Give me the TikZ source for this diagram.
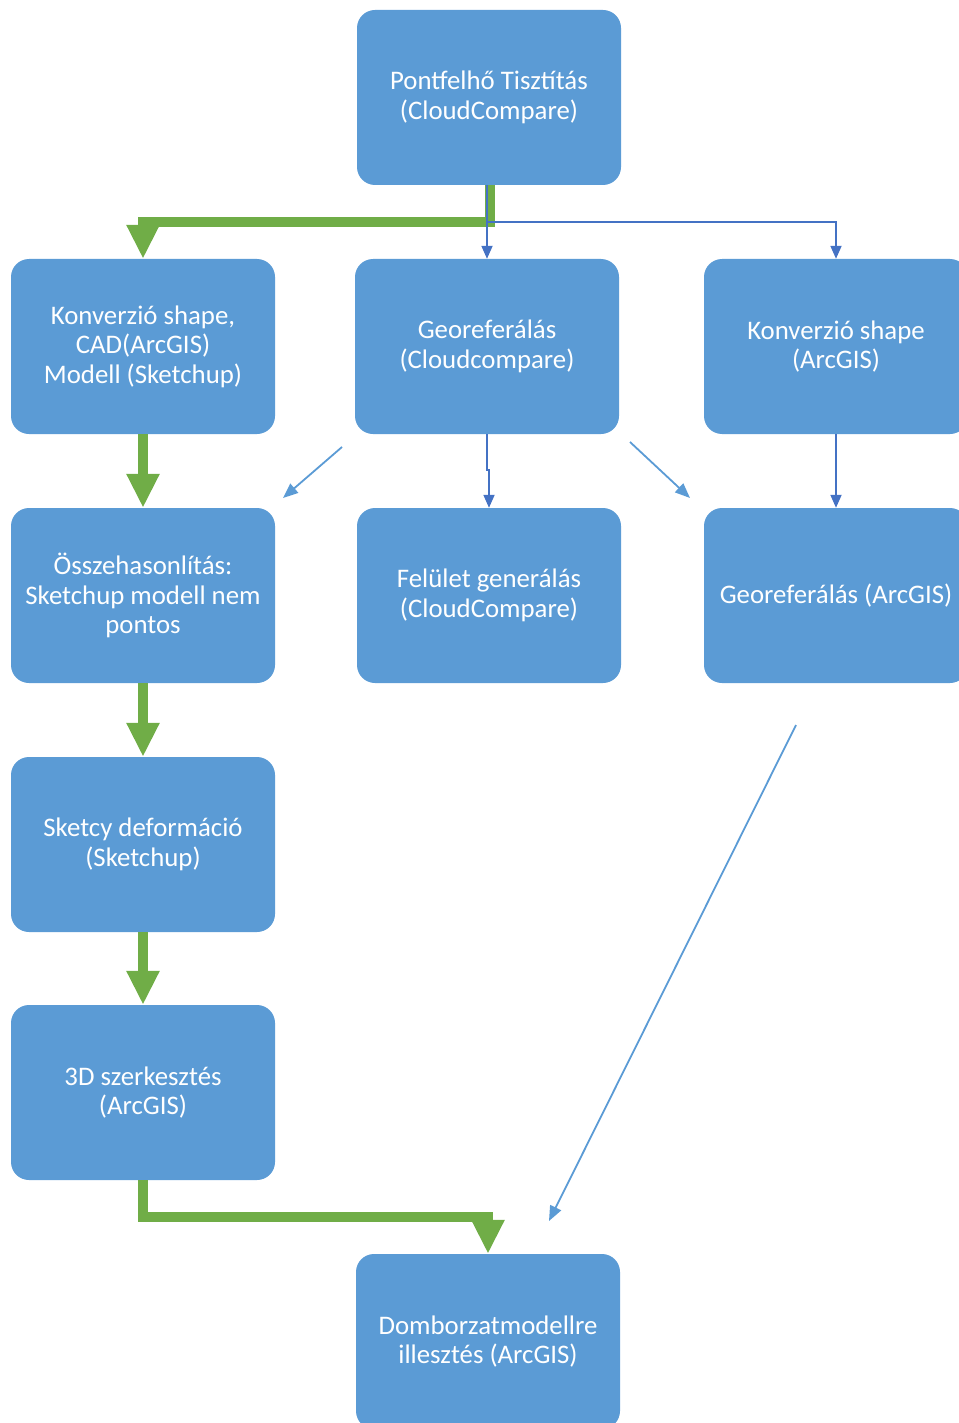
\documentclass[tikz,border=0pt]{standalone}
\usepackage{fontspec}
\setmainfont{Carlito}
\usetikzlibrary{arrows.meta}
\definecolor{boxblue}{HTML}{5B9BD5}
\definecolor{grn}{HTML}{70AD47}
\definecolor{dblue}{HTML}{4472C4}
\begin{document}
\begin{tikzpicture}[x=1pt,y=-1pt,
  box/.style={draw=none, fill=boxblue, rounded corners=18pt, minimum width=264pt, minimum height=175pt, text=white, align=center, font=\fontsize{26.8}{29.5}\selectfont, inner sep=0pt},
  gr/.style={draw=grn, line width=9.5pt, -{Triangle[length=34pt,width=31pt]}},
  db/.style={draw=dblue, line width=1.8pt, -{Triangle[length=13pt,width=11pt]}},
  lb/.style={draw=boxblue, line width=1.8pt, -{Triangle[length=15pt,width=12pt]}}]
\useasboundingbox (0,0) rectangle (958,1423);
\node[box] (top) at (489,97.5) {Pontfelhő Tisztítás\\(CloudCompare)};
\node[box] (k1) at (143,346.5) {Konverzió shape,\\CAD(ArcGIS)\\Modell (Sketchup)};
\node[box] (g1) at (487,346.5) {Georeferálás\\(Cloudcompare)};
\node[box] (k2) at (836,346.5) {Konverzió shape\\(ArcGIS)};
\node[box] (o) at (143,595.5) {Összehasonlítás:\\Sketchup modell nem\\pontos};
\node[box] (f) at (489,595.5) {Felület generálás\\(CloudCompare)};
\node[box] (g2) at (836,595.5) {Georeferálás (ArcGIS)};
\node[box] (s) at (143,844.5) {Sketcy deformáció\\(Sketchup)};
\node[box] (d3) at (143,1092.5) {3D szerkesztés\\(ArcGIS)};
\node[box] (dom) at (488,1341.5) {Domborzatmodellre\\illesztés (ArcGIS)};
% green path
\draw[gr] ([xshift=1pt]top.south) -- ++(0,37) -| (k1.north);
\draw[gr] (k1.south) -- (o.north);
\draw[gr] (o.south) -- (s.north);
\draw[gr] (s.south) -- (d3.north);
\draw[gr] (d3.south) -- ++(0,37) -| (dom.north);
% dark blue
\coordinate (bj) at (487,222);
\draw[db] ([xshift=-2pt]top.south) -- (bj) -| (k2.north);
\draw[db] (bj) -- (g1.north);
\draw[db] (g1.south) -- ++(0,36) -| (f.north);
\draw[db] (k2.south) -- (g2.north);
% light blue diagonals
\coordinate (a1) at (342,447);
\coordinate (a2) at (283,498);
\coordinate (b1) at (630,442);
\coordinate (b2) at (690,498);
\coordinate (c1) at (796,725);
\coordinate (c2) at (549,1221);
\draw[lb] (a1) -- (a2);
\draw[lb] (b1) -- (b2);
\draw[lb] (c1) -- (c2);
\end{tikzpicture}
\end{document}
